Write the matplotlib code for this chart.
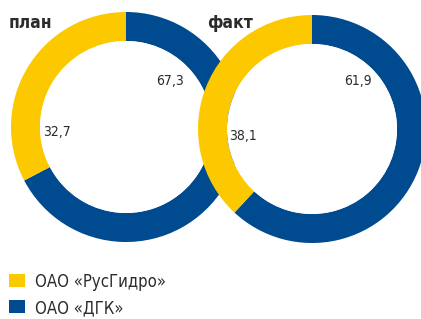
import matplotlib
matplotlib.use("Agg")
import matplotlib.pyplot as plt
from matplotlib.patches import Circle, Rectangle

plt.rcParams['font.family'] = ['DejaVu Sans']
plt.rcParams['font.stretch'] = 'condensed'

titles = ["план", "факт"]
series_names = ["ОАО «ДГК»", "ОАО «РусГидро»"]
plan_values = [67.3, 32.7]
fact_values = [61.9, 38.1]
plan_labels = ["67,3", "32,7"]
fact_labels = ["61,9", "38,1"]

BLUE = "#004a8f"
YELLOW = "#fcc900"
TXT = "#2b2b2b"
colors = [BLUE, YELLOW]

W, H = 421, 319
fig = plt.figure(figsize=(W / 100, H / 100), dpi=100)
ax = fig.add_axes([0, 0, 1, 1])

donuts = [
    dict(values=plan_values, labels=plan_labels, title=titles[0], c=(126, H - 127), r=115,
         lab_pos=[(170, H - 81), (57, H - 132)], title_pos=(9, H - 28.5)),
    dict(values=fact_values, labels=fact_labels, title=titles[1], c=(312, H - 129), r=114,
         lab_pos=[(358, H - 81), (243, H - 136)], title_pos=(207, H - 28.5)),
]
ring = 29
for i, d in enumerate(donuts):
    wedges, _ = ax.pie(d["values"], colors=colors, center=d["c"], radius=d["r"],
                       startangle=90, counterclock=False,
                       wedgeprops=dict(width=ring, linewidth=0), frame=True)
    for w in wedges:
        w.set_zorder(2 * i + 1)
    ax.add_patch(Circle(d["c"], d["r"] - ring, facecolor="white", edgecolor="none", zorder=2 * i + 1.5))
    for lab, (x, y) in zip(d["labels"], d["lab_pos"]):
        ax.text(x, y, lab, ha="center", va="center", fontsize=10, color=TXT, zorder=10)
    ax.text(d["title_pos"][0], d["title_pos"][1], d["title"], ha="left", va="baseline",
            fontsize=12.5, fontweight="bold", color=TXT, zorder=10)

# legend (RusGidro first, then DGK)
leg_items = [(series_names[1], YELLOW, 287), (series_names[0], BLUE, 313)]
for name, col, base in leg_items:
    ax.add_patch(Rectangle((8.5, H - base), 16.5, 13.5, facecolor=col, edgecolor="none", zorder=10))
    ax.text(35, H - base, name, ha="left", va="baseline", fontsize=12, color=TXT, zorder=10)

ax.set_xlim(0, W)
ax.set_ylim(0, H)
ax.set_aspect("auto")
ax.axis("off")
fig.savefig("out.png", dpi=100)
